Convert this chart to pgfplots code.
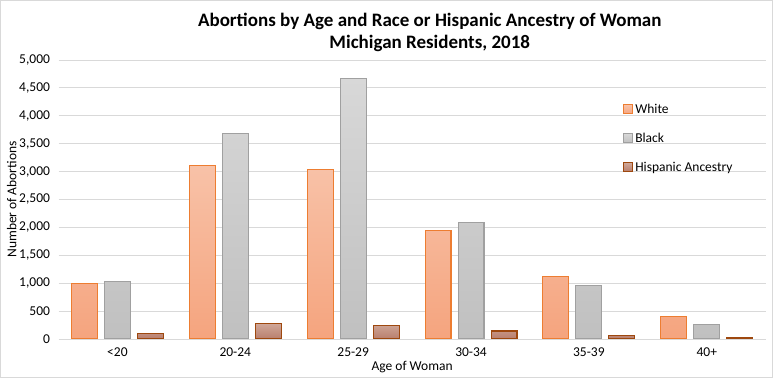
\documentclass[border=0pt]{standalone}
\usepackage{fontspec}
\setmainfont{Carlito}
\usepackage{pgfplots}
\pgfplotsset{compat=1.18}
\definecolor{wfill1}{RGB}{248,194,168}
\definecolor{wfill2}{RGB}{245,164,126}
\definecolor{wline}{RGB}{237,125,49}
\definecolor{bfill1}{RGB}{216,216,216}
\definecolor{bfill2}{RGB}{192,192,192}
\definecolor{bline}{RGB}{160,160,160}
\definecolor{hfill1}{RGB}{208,168,154}
\definecolor{hfill2}{RGB}{184,126,108}
\definecolor{hline}{RGB}{158,72,14}
\definecolor{gridc}{RGB}{217,217,217}
\begin{document}
\begin{tikzpicture}
\draw[gridc, line width=0.8bp] (0.5bp,0.5bp) rectangle (772.5bp,377.5bp);
\begin{axis}[
  at={(58.6bp,39bp)}, anchor=south west,
  scale only axis, width=707bp, height=279bp,
  xmin=-0.5, xmax=5.5, ymin=0, ymax=5000,
  axis line style={draw=none},
  ymajorgrids, grid style={gridc, line width=0.8bp},
  ytick={0,500,...,5000},
  xtick={0,1,2,3,4,5},
  xticklabels={<20,20-24,25-29,30-34,35-39,40+},
  major tick length=0pt,
  /pgf/number format/assume math mode=true,
  /pgf/number format/1000 sep={,},
  tick label style={font=\fontsize{13.5bp}{16bp}\selectfont},
  yticklabel style={xshift=-5bp},
  xticklabel style={yshift=-5bp},
  ylabel={Number of Abortions},
  ylabel style={at={(axis description cs:-0.066,0.5)}, anchor=center, font=\fontsize{13.5bp}{16bp}\selectfont},
  xlabel={Age of Woman},
  xlabel style={at={(axis description cs:0.5,-0.1)}, anchor=center, font=\fontsize{13.5bp}{16bp}\selectfont},
  title={Abortions by Age and Race or Hispanic Ancestry of Woman\\Michigan Residents, 2018},
  title style={at={(axis description cs:0.525,1.078)}, anchor=center, align=center, font=\fontsize{19bp}{22bp}\selectfont\bfseries},
  legend cell align=left,
  legend style={at={(0.794,0.857)}, anchor=north west, draw=none, fill=none,
    font=\fontsize{13.5bp}{16bp}\selectfont, row sep=14bp,
    /tikz/every even column/.append style={column sep=2bp}},
  legend image code/.code={\draw[#1] (0bp,-4.5bp) rectangle (9bp,4.5bp);},
]
\draw[gridc, line width=0.8bp] (axis cs:-0.5,0) -- (axis cs:5.5,0);
\addplot[ybar, bar width=0.22, bar shift=-0.28, draw=wline, line width=1.1bp, top color=wfill1, bottom color=wfill2]
  coordinates {(0,1000) (1,3113) (2,3041) (3,1948) (4,1123) (5,407)};
\addlegendentry{White}
\addplot[ybar, bar width=0.22, bar shift=0, draw=bline, line width=1.1bp, top color=bfill1, bottom color=bfill2]
  coordinates {(0,1035) (1,3674) (2,4672) (3,2091) (4,962) (5,263)};
\addlegendentry{Black}
\addplot[ybar, bar width=0.22, bar shift=0.28, draw=hline, line width=1.1bp, top color=hfill1, bottom color=hfill2]
  coordinates {(0,102) (1,281) (2,245) (3,143) (4,66) (5,18)};
\addlegendentry{Hispanic Ancestry}
\end{axis}
\end{tikzpicture}
\end{document}
